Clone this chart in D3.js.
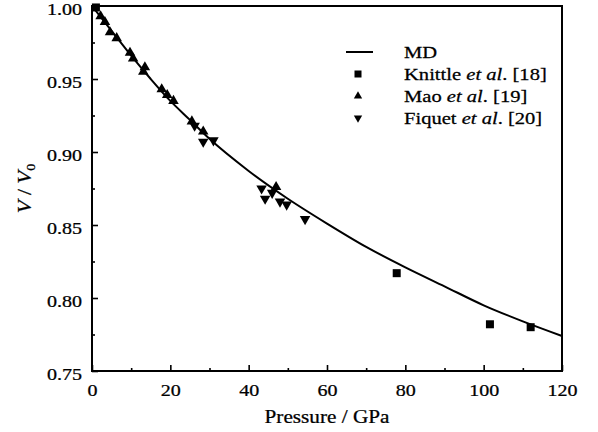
<!DOCTYPE html>
<html>
<head>
<meta charset="utf-8">
<script src="https://cdn.jsdelivr.net/npm/d3@7"></script>
<style>
  body { margin: 0; background: #fff; }
  svg text { fill: #000; }
</style>
</head>
<body>
<div id="chart"></div>
<script>
// MD curve
const mdPressure = [0, 5, 10, 15, 20, 25, 30, 40, 50, 60, 70, 80, 90, 100, 110, 120];
const mdVolume = [1.000, 0.983, 0.966, 0.950, 0.935, 0.922, 0.909, 0.887, 0.868, 0.851, 0.835, 0.821, 0.808, 0.795, 0.784, 0.774];

// Knittle et al. [18]
const knittlePressure = [1.0, 77.8, 101.6, 112.0];
const knittleVolume = [0.999, 0.817, 0.782, 0.780];

// Mao et al. [19]
const maoPressure = [2.2, 3.3, 4.6, 6.3, 9.7, 10.5, 13.5, 13.1, 17.8, 19.2, 20.8, 25.5, 28.4, 47.0];
const maoVolume = [0.993, 0.989, 0.982, 0.978, 0.968, 0.964, 0.958, 0.955, 0.943, 0.939, 0.935, 0.921, 0.914, 0.876];

// Fiquet et al. [20]
const fiquetPressure = [26.2, 28.4, 31.0, 43.3, 44.2, 46.0, 48.0, 49.7, 54.4];
const fiquetVolume = [0.918, 0.907, 0.908, 0.875, 0.868, 0.872, 0.866, 0.864, 0.854];

const xTicks = [0, 20, 40, 60, 80, 100, 120];
const yTicks = [0.75, 0.80, 0.85, 0.90, 0.95, 1.00];

const width = 598, height = 432;
const margin = { top: 6, right: 36, bottom: 61, left: 92 };
const plotW = width - margin.left - margin.right;
const plotH = height - margin.top - margin.bottom;
const sx = 1.18; // text in the figure is a bit stretched sideways
const serif = '"Liberation Serif", "Times New Roman", Times, serif';

const svg = d3.select("#chart").append("svg")
    .attr("width", width)
    .attr("height", height)
    .attr("font-family", serif);

const g = svg.append("g")
    .attr("transform", `translate(${margin.left},${margin.top})`);

const x = d3.scaleLinear().domain([0, 120]).range([0, plotW]);
const y = d3.scaleLinear().domain([0.75, 1.00]).range([plotH, 0]);

function stretch(sel) {
    sel.attr("transform", function () {
        const tx = +this.getAttribute("x") || 0;
        return `translate(${tx * (1 - sx)},0) scale(${sx},1)`;
    });
}

// minor ticks
const xMinor = d3.range(10, 120, 20);
const yMinor = d3.range(0.775, 1.0, 0.05);

g.append("g")
    .attr("transform", `translate(0,${plotH})`)
    .call(d3.axisBottom(x).tickValues(xMinor).tickSize(-3).tickFormat(""))
    .call(a => a.select(".domain").remove());

g.append("g")
    .call(d3.axisLeft(y).tickValues(yMinor).tickSize(-3).tickFormat(""))
    .call(a => a.select(".domain").remove());

const xAxis = g.append("g")
    .attr("font-family", serif)
    .attr("transform", `translate(0,${plotH})`)
    .call(d3.axisBottom(x).tickValues(xTicks).tickSize(-6).tickPadding(13).tickFormat(d3.format("d")));
xAxis.attr("font-family", serif).attr("font-size", 17);
xAxis.select(".domain").remove();
xAxis.selectAll("text").attr("font-family", serif).attr("font-size", 17).call(stretch);

const yAxis = g.append("g")
    .call(d3.axisLeft(y).tickValues(yTicks).tickSize(-6).tickPadding(10).tickFormat(d3.format(".2f")));
yAxis.attr("font-family", serif).attr("font-size", 17);
yAxis.select(".domain").remove();
yAxis.selectAll("text").attr("font-family", serif).attr("font-size", 17).attr("dy", "0.48em").call(stretch);

g.selectAll(".tick line").attr("stroke", "#000").attr("stroke-width", 1.6);
g.selectAll(".tick text").attr("stroke", "#000").attr("stroke-width", 0.25);

// MD curve
const line = d3.line()
    .x((d, i) => x(mdPressure[i]))
    .y(d => y(d))
    .curve(d3.curveMonotoneX);

g.append("path")
    .datum(mdVolume)
    .attr("fill", "none")
    .attr("stroke", "#000")
    .attr("stroke-width", 2)
    .attr("d", line);

// markers
const triUp = d3.symbol().type(d3.symbolTriangle).size(48);
const triUpSmall = d3.symbol().type(d3.symbolTriangle).size(30);

g.append("g").selectAll("rect")
    .data(knittlePressure)
    .join("rect")
    .attr("x", (d) => x(d) - 4)
    .attr("y", (d, i) => y(knittleVolume[i]) - 4)
    .attr("width", 8)
    .attr("height", 8)
    .attr("fill", "#000");

g.append("g").selectAll("path")
    .data(maoPressure)
    .join("path")
    .attr("d", triUp)
    .attr("transform", (d, i) => `translate(${x(d)},${y(maoVolume[i])})`)
    .attr("fill", "#000");

g.append("g").selectAll("path")
    .data(fiquetPressure)
    .join("path")
    .attr("d", triUp)
    .attr("transform", (d, i) => `translate(${x(d)},${y(fiquetVolume[i])}) rotate(180)`)
    .attr("fill", "#000");

// frame
g.append("rect")
    .attr("width", plotW)
    .attr("height", plotH)
    .attr("fill", "none")
    .attr("stroke", "#000")
    .attr("stroke-width", 2);

// axis titles
svg.append("text")
    .attr("transform", `translate(${margin.left + plotW / 2},${height - 9}) scale(${sx},1)`)
    .attr("text-anchor", "middle")
    .attr("font-size", 18)
    .attr("stroke", "#000").attr("stroke-width", 0.25)
    .text("Pressure / GPa");

const yTitle = svg.append("text")
    .attr("transform", `translate(31,${margin.top + plotH / 2}) rotate(-90) scale(${sx},1)`)
    .attr("text-anchor", "middle")
    .attr("font-size", 18)
    .attr("stroke", "#000").attr("stroke-width", 0.25);
yTitle.append("tspan").attr("font-style", "italic").text("V");
yTitle.append("tspan").text(" / ");
yTitle.append("tspan").attr("font-style", "italic").text("V");
yTitle.append("tspan").attr("font-size", 12).attr("dy", 4).text("0");

// legend
const legendNames = ["Knittle", "Mao", "Fiquet"];
const legendRefs = ["[18]", "[19]", "[20]"];
const legendX = 346, legendY = 52, rowH = 22;
const lsx = 1.21;

const legend = svg.append("g");
legend.append("line")
    .attr("x1", legendX).attr("x2", legendX + 27)
    .attr("y1", legendY).attr("y2", legendY)
    .attr("stroke", "#000").attr("stroke-width", 2);

legend.append("text")
    .attr("transform", `translate(${legendX + 58},${legendY + 6}) scale(${lsx},1)`)
    .attr("font-size", 17)
    .attr("stroke", "#000").attr("stroke-width", 0.25)
    .text("MD");

legendNames.forEach((name, i) => {
    const cy = legendY + rowH * (i + 1);
    const cx = legendX + 12;
    if (i === 0) {
        legend.append("rect").attr("x", cx - 3.5).attr("y", cy - 3.5)
            .attr("width", 7).attr("height", 7).attr("fill", "#000");
    } else {
        legend.append("path").attr("d", triUpSmall)
            .attr("transform", `translate(${cx},${cy})${i === 2 ? " rotate(180)" : ""}`)
            .attr("fill", "#000");
    }
    const t = legend.append("text")
        .attr("transform", `translate(${legendX + 58},${cy + 6}) scale(${lsx},1)`)
        .attr("font-size", 17)
        .attr("stroke", "#000").attr("stroke-width", 0.25);
    t.append("tspan").text(name + " ");
    t.append("tspan").attr("font-style", "italic").text("et al");
    t.append("tspan").text(". " + legendRefs[i]);
});
</script>
</body>
</html>
